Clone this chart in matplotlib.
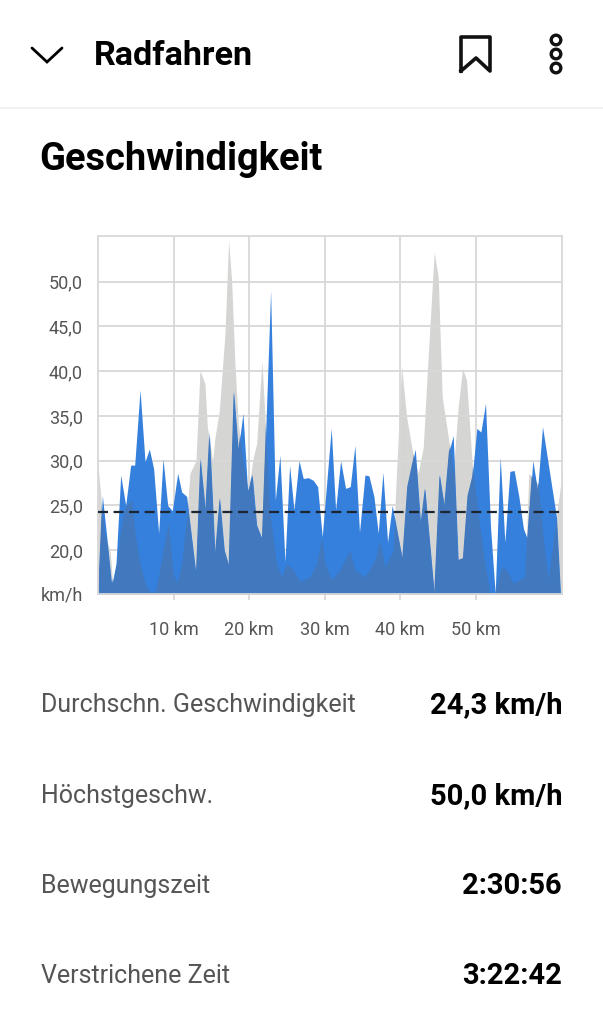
import matplotlib
matplotlib.use("Agg")
import matplotlib.pyplot as plt
from matplotlib.patches import Circle

plt.rcParams["font.family"] = ["Roboto", "DejaVu Sans"]

# speed trace (km, km/h)
speed_km = [0, 0.57, 1.15, 1.81, 2.38, 3.0, 3.66, 4.32, 4.85, 5.56, 6.22, 6.79, 7.36, 8.02, 8.6, 9.22, 9.83,
            10.54, 11.07, 11.73, 12.96, 13.54, 14.2, 14.73, 15.48, 16.09, 16.71, 17.28, 17.95, 18.56, 19.18,
            19.8, 20.41, 20.99, 21.69, 22.84, 23.46, 24.07, 24.74, 25.35, 25.93, 26.59, 27.16, 27.82, 28.48,
            29.06, 29.67, 30.86, 31.44, 32.1, 32.76, 33.38, 33.99, 34.6, 35.32, 35.85, 36.51, 37.08, 37.7,
            38.32, 38.93, 40.26, 40.92, 41.98, 42.68, 43.25, 44.49, 45.19, 45.81, 46.43, 47.0, 47.66, 48.28,
            48.9, 49.51, 50.13, 50.66, 51.28, 51.94, 52.56, 53.22, 53.84, 54.5, 55.07, 55.69, 56.3, 56.79,
            57.54, 58.16, 58.82, 60.67, 61.2]
speed = [15.2, 26.1, 21.5, 16.1, 18.5, 28.4, 25.0, 29.5, 29.5, 37.9, 29.9, 31.3, 29.1, 21.9, 30.2, 25.0, 24.4,
         28.6, 26.5, 26.0, 17.4, 30.2, 24.5, 33.2, 19.6, 25.8, 20.0, 18.3, 37.7, 31.2, 35.3,
         26.5, 28.4, 22.8, 21.3, 49.0, 25.6, 30.6, 18.7, 29.5, 24.5, 30.0, 28.0, 28.1, 27.8,
         27.1, 21.5, 33.6, 24.5, 30.0, 26.9, 27.1, 31.7, 22.0, 28.4, 28.3, 26.0, 21.9, 28.7,
         20.9, 25.0, 19.1, 27.1, 31.3, 23.0, 26.9, 15.2, 28.4, 25.0, 31.0, 32.8, 18.9, 19.1,
         26.1, 28.2, 33.6, 33.2, 36.4, 22.6, 15.2, 30.4, 20.9, 28.8, 28.9, 26.0, 22.4, 21.3,
         30.0, 26.7, 33.8, 23.7, 15.2]

# grey elevation trace behind the speed
grey_km = [-0.05, 0.49, 0.93, 1.59, 1.94, 2.47, 3.0, 3.57, 4.45, 4.89, 5.56, 6.22, 6.88, 7.54, 7.98, 8.64, 9.3,
           9.96, 10.49, 11.07, 11.73, 12.17, 12.96, 13.49, 14.15, 14.46, 15.17, 15.48, 16.05, 16.8, 17.28,
           17.68, 18.12, 18.56, 19.22, 19.89, 20.55, 20.99, 21.69, 22.09, 22.75, 23.63, 24.29, 24.96, 25.84,
           26.72, 28.04, 28.92, 29.59, 30.03, 30.91, 32.01, 33.33, 33.99, 35.32, 36.64, 37.3, 37.96, 39.07,
           39.37, 40.17, 40.83, 41.58, 42.37, 43.04, 43.48, 44.49, 45.02, 45.55, 46.56, 47.0, 47.66, 48.24,
           48.77, 49.51, 50.31, 51.19, 51.85, 52.51, 53.4, 54.06, 54.94, 56.48, 57.01, 58.25, 58.91, 59.57,
           60.89, 61.6]
grey = [30.0, 24.8, 21.5, 20.0, 16.3, 18.5, 22.2, 24.8, 25.6, 21.9, 18.5, 16.3, 15.3, 15.3, 17.0, 20.0, 23.0,
        17.4, 16.3, 18.5, 23.7, 28.6, 30.0, 40.1, 38.6, 33.8, 30.0, 32.6, 35.6, 44.2, 54.6,
        50.1, 40.8, 34.1, 29.7, 26.7, 30.4, 31.9, 41.2, 34.9, 24.1, 18.5, 17.0, 18.5, 17.8,
        16.5, 17.0, 18.5, 21.5, 18.5, 16.7, 17.8, 20.0, 17.8, 17.0, 18.9, 21.1, 18.1, 20.0,
        26.3, 40.6, 34.9, 31.2, 28.6, 31.5, 38.5, 53.3, 50.5, 37.1, 31.5, 28.6, 36.0, 40.3,
        39.0, 29.7, 24.1, 18.5, 15.3, 15.2, 18.1, 17.8, 16.3, 17.0, 28.6, 27.4, 21.5, 16.7,
        25.2, 29.7]

average = 24.3
y_ticks = [15.1, 20, 25, 30, 35, 40, 45, 50]
y_labels = ["km/h", "20,0", "25,0", "30,0", "35,0", "40,0", "45,0", "50,0"]
x_ticks = [10, 20, 30, 40, 50]
x_labels = ["10 km", "20 km", "30 km", "40 km", "50 km"]

stat_names = ["Durchschn. Geschwindigkeit", "Höchstgeschw.", "Bewegungszeit", "Verstrichene Zeit"]
stat_values = ["24,3 km/h", "50,0 km/h", "2:30:56", "3:22:42"]
stat_rows = [705, 796, 886, 976]

W, H = 603, 1024
fig = plt.figure(figsize=(W / 100, H / 100), dpi=100)

# page layer in pixel coordinates for the app chrome
page = fig.add_axes([0, 0, 1, 1])
page.set_xlim(0, W)
page.set_ylim(H, 0)
page.axis("off")

page.plot([32, 47, 62], [48, 62, 48], color="black", lw=2.0, solid_capstyle="round", solid_joinstyle="miter")
page.text(94, 56, "Radfahren", fontsize=24.6, fontweight="bold", va="center", ha="left", color="black")
page.plot([461, 461, 490, 490, 476, 461], [71, 37, 37, 71, 58, 71], color="#111111", lw=2.6, solid_joinstyle="round")
for cy in [40, 54, 68]:
    page.add_patch(Circle((556, cy), 4.8, fill=False, ec="#111111", lw=2.4))
page.plot([0, W], [108, 108], color="#efefef", lw=1.2)
page.text(39.5, 160, "Geschwindigkeit", fontsize=27.4, fontweight="bold", va="center", ha="left", color="black")

for name, value, row in zip(stat_names, stat_values, stat_rows):
    page.text(41, row, name, fontsize=18, va="center", ha="left", color="#555555")
    page.text(562, row, value, fontsize=21, fontweight="bold", va="center", ha="right", color="black")

# chart
ax = fig.add_axes([97.5 / W, 1 - 594 / H, (562 - 97.5) / W, (594 - 236) / H])
ax.set_xlim(-0.07, 61.4)
ax.set_ylim(15.1, 55.1)
ax.set_axisbelow(True)
ax.grid(True, color="#d8d8d8", lw=1.3)

ax.fill_between(grey_km, 15.1, grey, color="#d5d5d3", lw=0, zorder=0.3)
blue = ax.fill_between(speed_km, 15.1, speed, color="#3580dc", lw=0, zorder=2)
overlap = ax.fill_between(grey_km, 15.1, grey, color="#4279be", lw=0, zorder=2.1)
overlap.set_clip_path(blue.get_paths()[0], transform=blue.get_transform())
ax.axhline(average, color="#1c2530", lw=1.6, dashes=(4.5, 2.5), zorder=3)

ax.set_yticks(y_ticks, y_labels)
ax.set_xticks(x_ticks, x_labels)
ax.tick_params(axis="y", length=0, pad=10.5, labelsize=13, labelcolor="#555555")
ax.tick_params(axis="x", length=4, width=1.3, color="#d8d8d8", pad=15.5, labelsize=13, labelcolor="#555555")
for spine in ax.spines.values():
    spine.set_color("#d8d8d8")
    spine.set_linewidth(1.3)

fig.savefig("out.png", dpi=100)
